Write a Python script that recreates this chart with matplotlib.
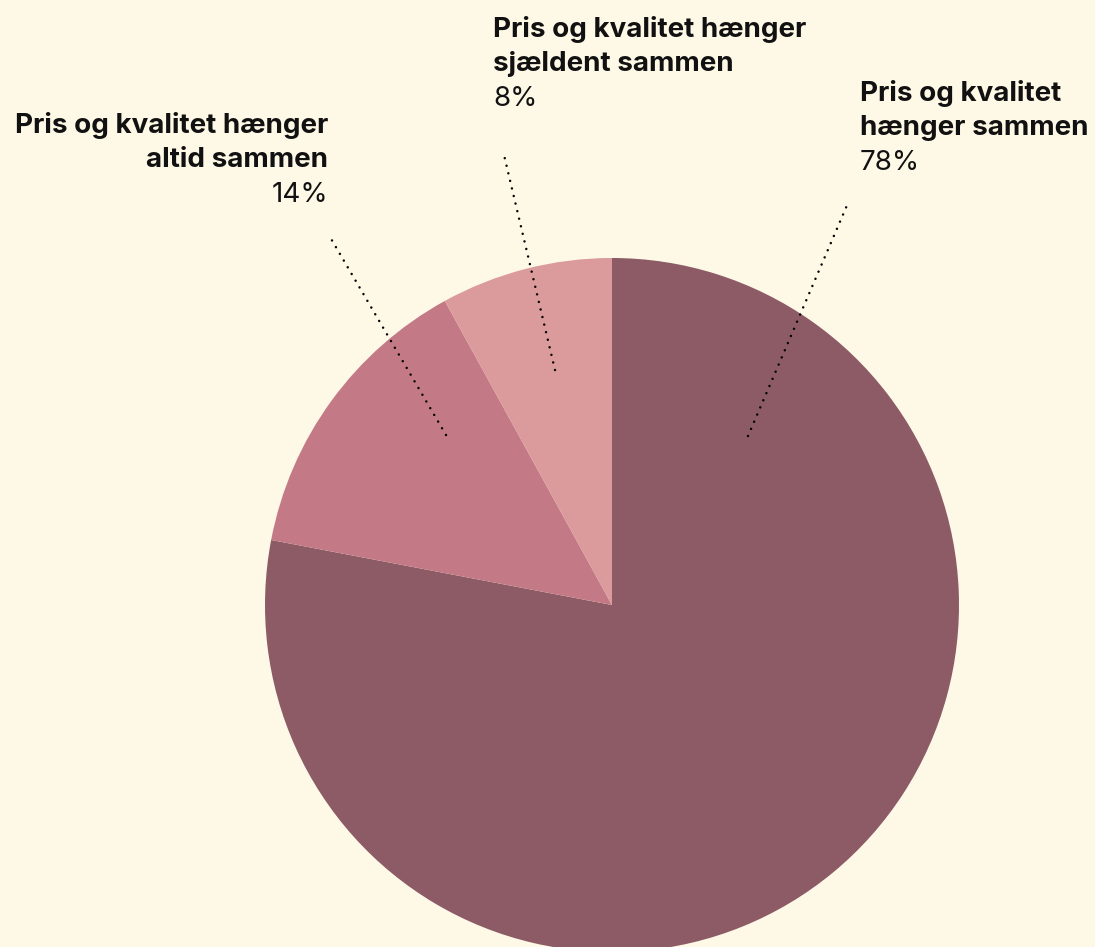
import matplotlib
matplotlib.use("Agg")
import matplotlib.pyplot as plt

labels = ["Pris og kvalitet\nhænger sammen",
          "Pris og kvalitet hænger\naltid sammen",
          "Pris og kvalitet hænger\nsjældent sammen"]
values = [78, 14, 8]
pct_labels = ["78%", "14%", "8%"]
colors = ["#8C5B66", "#C47A86", "#DB9A9C"]
bg = "#FEF8E6"

W, H = 1095, 947
fig = plt.figure(figsize=(W / 100, H / 100), dpi=100, facecolor=bg)
ax = fig.add_axes([0, 0, 1, 1])
ax.set_facecolor(bg)

cx, cy, R = 612, H - 605, 347
ax.pie(values, colors=colors, startangle=90, counterclock=False,
       center=(cx, cy), radius=R, frame=True,
       wedgeprops=dict(linewidth=0))
ax.set_xlim(0, W)
ax.set_ylim(0, H)
ax.axis("off")

# label blocks: (x, y_top, ha), leader line (inner point, outer point) in px
blocks = [
    dict(x=860, y=80, ha="left", p0=(748, 436), p1=(848, 203)),
    dict(x=328, y=112, ha="right", p0=(446, 435), p1=(330, 237)),
    dict(x=493, y=16, ha="left", p0=(555, 370), p1=(504, 155)),
]

fam = ["Inter", "DejaVu Sans"]
lh = 35
fs = 20
for lab, pct, b in zip(labels, pct_labels, blocks):
    lines = lab.split("\n")
    y = b["y"]
    for ln in lines:
        ax.text(b["x"], H - y, ln, ha=b["ha"], va="top", fontsize=fs,
                fontweight="bold", family=fam, color="#111111")
        y += lh
    ax.text(b["x"], H - y, pct, ha=b["ha"], va="top", fontsize=fs,
            fontweight="normal", family=fam, color="#111111")
    (x0, y0), (x1, y1) = b["p0"], b["p1"]
    ax.plot([x0, x1], [H - y0, H - y1], color="black", lw=1.8,
            linestyle=(0, (0.01, 3.1)), dash_capstyle="round")

fig.savefig("out.png", dpi=100, facecolor=bg)
